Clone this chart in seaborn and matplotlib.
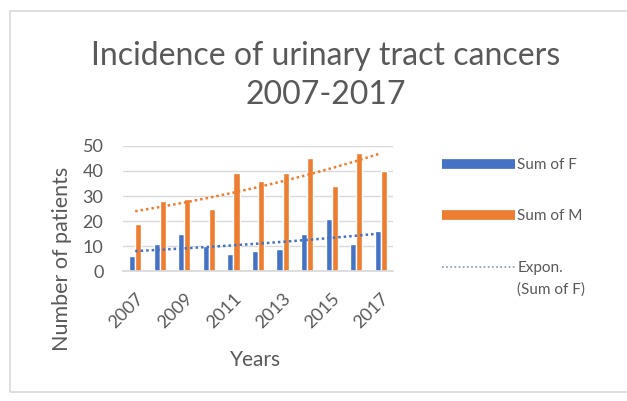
import numpy as np
import pandas as pd
import matplotlib
matplotlib.use("Agg")
import matplotlib.pyplot as plt
import seaborn as sns
from matplotlib.lines import Line2D
from matplotlib.patches import Rectangle
from matplotlib.legend_handler import HandlerLine2D

years = [2007, 2008, 2009, 2010, 2011, 2012, 2013, 2014, 2015, 2016, 2017]
female = [6, 11, 15, 10, 7, 8, 9, 15, 21, 11, 16]
male = [19, 28, 29, 25, 39, 36, 39, 45, 34, 47, 40]
series_names = ["Sum of F", "Sum of M"]
colors = ["#4472C4", "#ED7D31"]
title = "Incidence of urinary tract cancers\n2007-2017"

sns.set_theme(style="white")
plt.rcParams['font.family'] = ['Lato', 'DejaVu Sans']

df = pd.DataFrame({
    "Year": [str(y) for y in years] * 2,
    "Patients": female + male,
    "Series": [series_names[0]] * len(years) + [series_names[1]] * len(years),
})

fig = plt.figure(figsize=(6.27, 4.01), dpi=100)
ax = fig.add_axes([0.196, 0.324, 0.431, 0.312])

sns.barplot(data=df, x="Year", y="Patients", hue="Series", palette=colors,
            width=0.5, ax=ax, legend=False, saturation=1)

# exponential trendlines fitted on the data
xi = np.arange(len(years))
for vals, c in zip([female, male], colors):
    b, a = np.polyfit(xi, np.log(vals), 1)
    ax.plot(xi, np.exp(a + b * xi), linestyle=(0, (1, 1.2)), color=c, lw=1.8, zorder=5)

ax.set_ylim(0, 50)
ax.set_xlim(-0.5, len(years) - 0.5)
ax.set_yticks(range(0, 51, 10))
ax.set_xticks(xi[::2])
ax.set_xticklabels([str(y) for y in years[::2]], rotation=45, ha="right",
                   rotation_mode="anchor")
ax.tick_params(axis="both", length=0, colors="#595959", labelsize=13)
ax.tick_params(axis="y", pad=14)
ax.tick_params(axis="x", pad=14)
ax.yaxis.grid(True, color="#d9d9d9", lw=1)
ax.set_axisbelow(True)
for s in ["top", "right", "left"]:
    ax.spines[s].set_visible(False)
ax.spines["bottom"].set_color("#d9d9d9")

ax.set_ylabel("Number of patients", fontsize=15.5, color="#595959")
ax.yaxis.set_label_coords(-0.19, 0.096)
ax.set_xlabel("Years", fontsize=15, color="#595959")
ax.xaxis.set_label_coords(0.49, -0.63)

fig.text(0.519, 0.812, title, ha="center", va="center", fontsize=23,
         color="#595959", linespacing=1.4)


class UpHandler(HandlerLine2D):
    def __init__(self, shift, **kw):
        super().__init__(**kw)
        self.shift = shift

    def create_artists(self, legend, orig_handle, xdescent, ydescent, width,
                       height, fontsize, trans):
        arts = super().create_artists(legend, orig_handle, xdescent, ydescent,
                                      width, height, fontsize, trans)
        for a in arts:
            a.set_ydata(np.asarray(a.get_ydata(), dtype=float) + self.shift)
        return arts


handles = [
    Line2D([0], [0], color=colors[0], lw=7, solid_capstyle="butt"),
    Line2D([0], [0], color=colors[1], lw=7, solid_capstyle="butt"),
    Line2D([0], [0], color="#8497b0", lw=1.2, linestyle=(0, (1, 1.5))),
]
labels = [series_names[0], series_names[1], "Expon.\n(Sum of F)"]
leg = fig.legend(handles, labels, loc="upper left", bbox_to_anchor=(0.692, 0.625),
                 frameon=False, fontsize=11, handlelength=4.8, handletextpad=0.15,
                 labelspacing=2.45, borderpad=0, labelcolor="#595959",
                 handler_map={handles[2]: UpHandler(9.0)})
for t in leg.get_texts():
    t.set_linespacing(1.7)

fig.add_artist(Rectangle((10 / 627, 1 - 392 / 401), 1.0, (392 - 11) / 401,
                         transform=fig.transFigure, fill=False,
                         edgecolor="#d9d9d9", lw=1.2))

fig.savefig("out.png", dpi=100)
